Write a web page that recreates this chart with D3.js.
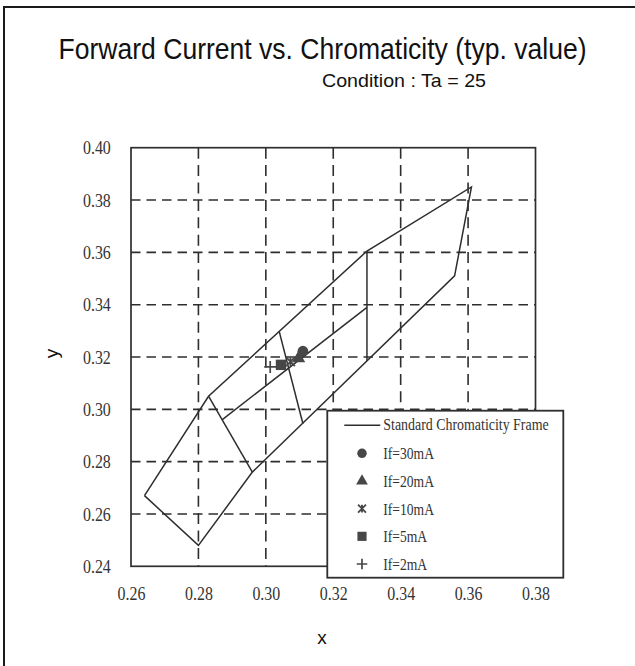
<!DOCTYPE html>
<html><head><meta charset="utf-8">
<script src="https://cdn.jsdelivr.net/npm/d3@7"></script>
<style>body{margin:0;background:#fff}svg{display:block}</style>
</head><body>
<svg id="c" width="635" height="666"></svg>
<script>
// ---- data ----
const xTicks = [0.26, 0.28, 0.30, 0.32, 0.34, 0.36, 0.38];
const yTicks = [0.24, 0.26, 0.28, 0.30, 0.32, 0.34, 0.36, 0.38, 0.40];
const frameOuter = [[0.264,0.267],[0.283,0.305],[0.330,0.3605],[0.361,0.385],[0.356,0.351],[0.296,0.276],[0.280,0.248],[0.264,0.267]];
const frameInner = [[0.287,0.296],[0.330,0.339]];
const frameVertical = [[0.330,0.3605],[0.330,0.3185]];
const frameCross1 = [[0.283,0.305],[0.296,0.276]];
const frameCross2 = [[0.304,0.3296],[0.311,0.2945]];
const seriesLabels = ["If=30mA","If=20mA","If=10mA","If=5mA","If=2mA"];
const seriesShapes = ["circle","triangle","asterisk","square","plus"];
const seriesX = [0.3110, 0.3097, 0.3073, 0.3045, 0.3013];
const seriesY = [0.3222, 0.3195, 0.3182, 0.3170, 0.3162];
const frameLabel = "Standard Chromaticity Frame";
const titleText = "Forward Current vs. Chromaticity (typ. value)";
const subtitleText = "Condition : Ta = 25";

// ---- layout ----
const W = 635, H = 666;
const m = {left: 131, right: 99.5, top: 147.7, bottom: 99.7};
const svg = d3.select("#c");
const ink = "#2e2e2e";
const markFill = "#474747";

const x = d3.scaleLinear().domain([0.26, 0.38]).range([m.left, W - m.right]);
const y = d3.scaleLinear().domain([0.24, 0.40]).range([H - m.bottom, m.top]);

// page border (top + left)
svg.append("path").attr("d", `M4,${H} V7 H${W}`).attr("fill","none")
  .attr("stroke","#1a1a1a").attr("stroke-width",2);

// grid
const gx = svg.append("g");
gx.selectAll("line.v").data(xTicks.filter(t => t > 0.265 && t < 0.375)).join("line")
  .attr("x1", d => x(d)).attr("x2", d => x(d))
  .attr("y1", y(0.40)).attr("y2", y(0.24))
  .attr("stroke", ink).attr("stroke-width", 1.6)
  .attr("stroke-dasharray", "11,6.4");
gx.selectAll("line.h").data(yTicks.filter(t => t > 0.245 && t < 0.395)).join("line")
  .attr("x1", x(0.26)).attr("x2", x(0.38))
  .attr("y1", d => y(d)).attr("y2", d => y(d))
  .attr("stroke", ink).attr("stroke-width", 1.6)
  .attr("stroke-dasharray", "9.5,6");

// chromaticity frame
const line = d3.line().x(d => x(d[0])).y(d => y(d[1]));
[frameOuter, frameInner, frameVertical, frameCross1, frameCross2].forEach(seg => {
  svg.append("path").attr("d", line(seg)).attr("fill","none")
    .attr("stroke", ink).attr("stroke-width", 1.5).attr("stroke-linejoin","miter");
});

// markers
function drawMarker(g, shape, cx, cy, s) {
  if (shape === "circle") {
    g.append("circle").attr("cx",cx).attr("cy",cy).attr("r",5.4*s).attr("fill",markFill);
  } else if (shape === "triangle") {
    g.append("path").attr("d", d3.symbol(d3.symbolTriangle, 78*s*s)())
      .attr("transform",`translate(${cx},${cy})`).attr("fill",markFill);
  } else if (shape === "square") {
    const h = 5.2*s;
    g.append("rect").attr("x",cx-h).attr("y",cy-h).attr("width",2*h).attr("height",2*h).attr("fill",markFill);
  } else if (shape === "asterisk") {
    const r = 4.5*s;
    g.append("path").attr("d",`M${cx-r},${cy-r}L${cx+r},${cy+r}M${cx-r},${cy+r}L${cx+r},${cy-r}M${cx},${cy-r}L${cx},${cy+r}`)
      .attr("stroke",markFill).attr("stroke-width",1.8).attr("fill","none");
  } else if (shape === "plus") {
    const r = 6*s;
    g.append("path").attr("d",`M${cx-r},${cy}L${cx+r},${cy}M${cx},${cy-r}L${cx},${cy+r}`)
      .attr("stroke",markFill).attr("stroke-width",1.7).attr("fill","none");
  }
}
const mg = svg.append("g");
for (let i = seriesLabels.length - 1; i >= 0; i--) {
  drawMarker(mg, seriesShapes[i], x(seriesX[i]), y(seriesY[i]), 1);
}

// plot frame
svg.append("rect").attr("x", x(0.26)).attr("y", y(0.40))
  .attr("width", x(0.38) - x(0.26)).attr("height", y(0.24) - y(0.40))
  .attr("fill","none").attr("stroke", ink).attr("stroke-width", 1.7);

// axes tick labels
const serif = "'Liberation Serif','Times New Roman',serif";
const xAxis = svg.append("g").attr("transform",`translate(0,${y(0.24)})`)
  .call(d3.axisBottom(x).tickValues(xTicks).tickFormat(d3.format(".2f")).tickSize(0).tickPadding(20));
xAxis.select(".domain").remove();
xAxis.selectAll("text").attr("font-family", serif).attr("font-size", 19).attr("fill", "#333")
  .attr("transform","scale(0.84,1)");
const yAxis = svg.append("g").attr("transform",`translate(${x(0.26)},0)`)
  .call(d3.axisLeft(y).tickValues(yTicks).tickFormat(d3.format(".2f")).tickSize(0).tickPadding(24));
yAxis.select(".domain").remove();
yAxis.selectAll("text").attr("font-family", serif).attr("font-size", 19).attr("fill", "#333")
  .attr("transform","scale(0.84,1)");

// legend
const lg = svg.append("g");
const lx0 = 327.3, ly0 = 410.7, lw = 236, lh = 167;
lg.append("rect").attr("x",lx0).attr("y",ly0).attr("width",lw).attr("height",lh)
  .attr("fill","#fff").attr("stroke", ink).attr("stroke-width",1.8);
lg.append("line").attr("x1",lx0+17).attr("x2",lx0+53).attr("y1",ly0+14.5).attr("y2",ly0+14.5)
  .attr("stroke", ink).attr("stroke-width",1.4);
lg.append("text").attr("font-family", serif).attr("font-size",16).attr("fill","#333")
  .attr("transform",`translate(${lx0+56},${ly0+19.5}) scale(0.87,1)`).text(frameLabel);
const rowY = d3.scaleLinear().domain([0, 4]).range([ly0+42.6, ly0+153.3]);
seriesLabels.forEach((lab, i) => {
  drawMarker(lg, seriesShapes[i], lx0+34.7, rowY(i), 0.88);
  lg.append("text").attr("font-family", serif).attr("font-size",17).attr("fill","#333")
    .attr("transform",`translate(${lx0+56},${rowY(i)+6}) scale(0.8,1)`).text(lab);
});

// titles
const sans = "'Liberation Sans',Arial,sans-serif";
svg.append("text").attr("x",58.5).attr("y",59).attr("font-family",sans).attr("font-size",29)
  .attr("textLength",528).attr("lengthAdjust","spacingAndGlyphs").attr("fill","#111").text(titleText);
svg.append("text").attr("x",322).attr("y",87).attr("font-family",sans).attr("font-size",19)
  .attr("textLength",164).attr("lengthAdjust","spacingAndGlyphs").attr("fill","#111").text(subtitleText);
svg.append("text").attr("x",322).attr("y",644).attr("text-anchor","middle").attr("font-family",sans)
  .attr("font-size",19).attr("fill","#111").text("x");
svg.append("text").attr("transform","translate(58,353.5) rotate(-90)").attr("text-anchor","middle")
  .attr("font-family",sans).attr("font-size",19).attr("fill","#111").text("y");
</script>
</body></html>
